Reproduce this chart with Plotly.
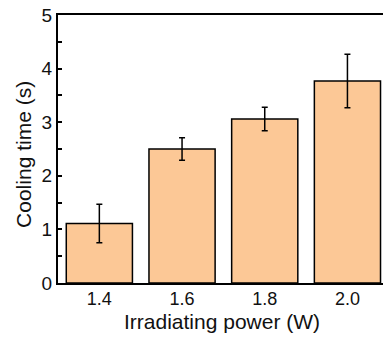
import plotly.graph_objects as go

categories = ["1.4", "1.6", "1.8", "2.0"]
cooling_time = [1.11, 2.50, 3.06, 3.77]
error = [0.36, 0.21, 0.22, 0.50]

fig = go.Figure()
fig.add_trace(go.Bar(
    x=categories, y=cooling_time,
    width=0.8,
    marker=dict(color="#FCC896", line=dict(color="black", width=1.5)),
    error_y=dict(type="data", array=error, visible=True, color="black", thickness=1.5, width=3),
))

font = "Liberation Sans, Arial, sans-serif"
fig.update_layout(
    width=383, height=337,
    margin=dict(l=58, r=0, t=15, b=54),
    plot_bgcolor="white", paper_bgcolor="white",
    showlegend=False,
    font=dict(family=font, size=19, color="#111111"),
    xaxis=dict(
        type="category", range=[-0.5, 3.43],
        showline=True, linecolor="black", linewidth=2, mirror=True,
        ticks="", showgrid=False,
        tickfont=dict(size=18), ticklabelstandoff=-2,
    ),
    yaxis=dict(
        range=[0, 5], tickvals=[0, 1, 2, 3, 4, 5],
        showline=True, linecolor="black", linewidth=2,
        ticks="inside", ticklen=4, tickwidth=1.5, tickcolor="black",
        minor=dict(dtick=0.5, ticks="inside", ticklen=4, tickwidth=1.5, tickcolor="black"),
        showgrid=False, zeroline=False,
        tickfont=dict(size=19),
    ),
    annotations=[
        dict(text="Irradiating power (W)", xref="paper", yref="paper",
             x=0.5037, y=-0.1418, xanchor="center", yanchor="middle",
             showarrow=False, font=dict(size=21)),
        dict(text="Cooling time (s)", xref="paper", yref="paper", textangle=-90,
             x=-0.1046, y=0.478, xanchor="center", yanchor="middle",
             showarrow=False, font=dict(size=21)),
    ],
)
fig.write_html("out.html")
